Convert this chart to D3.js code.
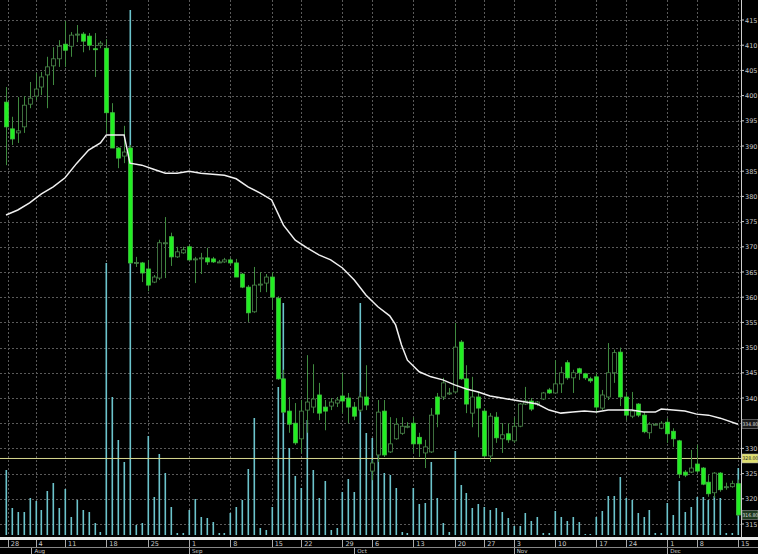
<!DOCTYPE html>
<html><head><meta charset="utf-8">
<script src="https://cdn.jsdelivr.net/npm/d3@7"></script>
<style>html,body{margin:0;padding:0;background:#000;overflow:hidden}</style>
</head><body>
<svg id="c" width="758" height="554"></svg>
<script>
// OHLC [open, high, low, close]
const candles = [
[398.7,401.7,386.2,393.8],[393.4,395.8,390.2,391.4],[392.6,399.7,390.6,393.0],[393.8,399.9,392.6,398.1],[398.3,402.7,397.5,399.5],
[399.9,404.5,399.1,401.3],[401.7,404.7,400.1,403.7],[404.1,407.7,397.5,405.7],[405.9,409.6,402.1,407.3],[407.3,411.0,405.7,409.8],
[410.2,414.8,405.7,409.0],[409.8,412.6,407.7,412.0],[412.0,414.0,410.6,412.2],[412.2,412.6,408.6,410.8],[411.8,412.4,409.0,410.0],
[409.3,412.4,403.7,409.2],[410.0,410.8,409.4,410.4],[409.4,411.2,392.6,396.6],[396.6,398.5,389.6,389.6],[389.6,389.8,385.6,387.6],
[388.0,394.0,386.6,388.8],[389.6,390.2,366.6,366.8],[366.8,368.0,366.0,366.9],[366.8,367.0,363.0,364.8],[365.6,367.4,361.2,362.4],
[363.0,364.4,362.8,364.0],[363.8,371.4,363.4,370.8],[370.6,375.9,363.8,370.8],[372.0,372.8,366.2,368.0],[368.0,370.0,367.8,369.0],
[368.8,370.0,368.6,369.4],[370.0,370.4,367.2,367.4],[367.6,368.0,362.8,367.6],[367.8,368.8,364.6,367.8],[367.8,369.8,366.4,367.0],
[367.6,368.0,366.8,367.0],[367.0,367.4,366.8,367.0],[367.0,367.8,366.8,367.4],[367.4,367.8,366.4,366.8],[366.8,367.6,364.0,364.0],
[364.6,364.8,361.8,362.0],[362.0,362.4,355.1,356.9],[357.1,366.0,356.9,362.4],[362.6,365.0,361.0,362.6],[362.8,364.6,361.0,364.0],
[364.0,365.0,357.5,360.0],[359.8,360.2,343.6,343.8],[343.8,345.6,337.0,337.2],[337.4,340.2,333.1,334.8],[335.0,339.0,330.7,331.1],
[331.9,339.6,329.1,337.4],[337.6,348.5,333.1,339.2],[338.2,346.7,337.0,339.8],[340.6,343.0,335.6,337.0],[338.2,339.6,333.6,337.4],
[338.4,340.0,337.6,339.2],[339.0,340.2,338.2,339.6],[340.4,345.0,337.0,339.4],[340.0,341.0,335.0,338.2],[338.2,339.2,335.6,336.4],
[337.6,341.2,337.2,340.2],[340.2,346.5,337.6,338.6],[325.5,327.7,323.7,327.1],[328.7,339.6,327.3,337.2],[337.4,339.6,328.3,328.7],
[329.3,336.2,329.1,330.9],[331.9,336.0,331.7,334.8],[333.0,336.2,332.7,334.4],[334.4,335.2,334.0,334.4],[335.0,336.2,329.1,330.9],
[332.2,333.1,328.3,330.9],[329.1,331.7,326.1,330.3],[329.3,338.0,329.1,336.6],[340.2,341.0,334.2,336.8],[340.2,344.0,339.6,343.0],
[341.0,342.0,340.6,341.0],[341.2,354.9,341.0,350.1],[351.1,351.5,343.6,343.8],[343.8,346.5,337.0,338.8],[337.0,344.2,334.2,340.2],
[340.2,341.2,332.2,338.0],[337.4,338.0,328.3,328.5],[328.5,337.0,327.3,336.4],[336.2,337.2,331.1,332.1],[331.9,335.0,329.1,332.7],
[332.9,335.0,331.1,331.7],[331.5,336.2,331.1,334.4],[334.4,339.0,334.2,338.8],[338.8,342.2,338.6,339.4],[339.4,340.0,337.4,337.8],
[338.8,339.4,338.4,339.2],[339.8,341.2,339.6,341.0],[341.6,342.0,340.8,341.0],[341.0,347.5,341.0,342.8],[342.8,346.2,341.0,345.0],
[347.0,347.5,343.6,344.0],[344.0,345.6,341.0,345.0],[345.8,346.0,343.6,345.0],[344.8,345.0,343.6,344.0],[343.8,344.2,343.0,343.4],
[344.2,345.0,337.0,338.2],[338.0,341.6,337.6,340.6],[340.2,350.9,339.6,345.0],[345.0,349.6,343.0,349.0],[349.1,350.0,338.4,340.2],
[340.2,341.2,335.6,336.6],[336.4,341.2,336.0,337.4],[338.8,339.0,336.2,336.6],[336.6,337.2,333.0,333.3],[333.1,335.2,331.9,334.8],
[334.8,335.0,334.6,334.8],[334.0,335.4,333.8,335.0],[335.2,336.0,331.1,332.9],[333.4,334.0,330.3,331.9],[331.5,331.7,324.1,324.9],
[325.3,325.7,324.3,324.7],[325.3,329.7,325.1,326.1],[326.9,330.7,325.1,325.5],[326.1,326.3,322.7,322.9],[323.3,324.7,320.4,321.0],
[321.2,325.3,320.2,325.1],[325.1,325.3,321.4,321.8],[322.4,323.2,321.8,322.4],[322.4,323.6,322.2,323.0],[323.0,323.8,316.6,316.8]
];
const volumes = [
65,27,23,23,37,34,25,44,52,27,46,18,35,25,23,12,3,272,138,95,73,525,
10,12,99,38,81,62,28,2,2,25,36,18,17,13,2,2,22,28,35,66,117,7,5,28,148,232,87,59,47,115,65,37,54,5,7,43,56,43,232,102,
97,85,62,60,47,3,2,47,31,32,73,37,12,3,84,50,42,27,31,28,25,27,23,17,9,9,22,14,18,2,2,24,18,14,18,13,1,1,18,24,39,39,58,37,35,22,18,25,2,2,32,20,54,23,28,38,38,35,39,37,2,2,67
];
const maIdx = [0,2,4,6,8,10,12,14,16,17,20,21,23,25,27,29,31,33,35,37,39,41,43,45,47,49,51,53,55,57,59,61,63,65,66,67,68,70,72,74,76,78,80,82,84,86,88,90,92,94,96,98,100,102,104,106,108,110,111,113,115,117,119,121,124];
const maVal = [376.3,377.3,378.7,380.5,381.9,383.7,386.6,389.2,390.6,392.2,392.2,386.6,386.2,385.4,384.6,384.6,385.0,384.6,384.4,384.2,383.5,381.9,380.7,379.3,374.3,371.3,369.8,368.4,367.4,365.8,363.4,360.4,358.1,356.3,354.5,350.5,347.5,345.2,344.2,343.6,342.6,341.8,341.2,340.4,340.0,339.6,339.2,338.8,337.6,337.0,337.2,337.4,337.2,337.6,337.6,337.6,337.2,337.2,337.8,337.6,337.4,336.8,336.6,336.0,334.8];
const dayTickIdx = [0.3,5,10,17,24,31,38,45,50,57,62,69,76,81,86,93,100,105,112,117,124];
const dayTickLabels = ["28","4","11","18","25","1","8","15","22","29","6","13","20","27","3","10","17","24","1","8","15"];
const monthIdx = [4.3,31,59,86,112];
const monthLabels = ["Aug","Sep","Oct","Nov","Dec"];
const priceTicks = d3.range(315,416,5);
const refLevel = 328.0;

const svg = d3.select("#c");
const W=758,H=554, plotR=741, volBase=535;
svg.append("rect").attr("width",W).attr("height",H).attr("fill","#000");
const x = d3.scaleLinear().domain([0,candles.length-1]).range([6,738]);
const y = d3.scaleLinear().domain([315,415]).range([524,20]);
const yv = d3.scaleLinear().domain([0,525]).range([volBase,10]);

const g = svg.append("g");
g.selectAll(".hg").data(priceTicks).join("line").attr("x1",0).attr("x2",plotR)
 .attr("y1",d=>Math.round(y(d))+0.5).attr("y2",d=>Math.round(y(d))+0.5)
 .attr("stroke","#5a5a5a").attr("stroke-dasharray","2,2");
g.selectAll(".vg").data(dayTickIdx).join("line").attr("y1",0).attr("y2",volBase)
 .attr("x1",d=>Math.round(x(d))+0.5).attr("x2",d=>Math.round(x(d))+0.5)
 .attr("stroke","#5a5a5a").attr("stroke-dasharray","2,2");
g.selectAll(".vol").data(volumes).join("rect")
 .attr("x",(d,i)=>Math.round(x(i))-0.5).attr("width",1.6)
 .attr("y",d=>yv(d)).attr("height",d=>volBase-yv(d)).attr("fill","#6cc4cc");
g.append("line").attr("x1",0).attr("x2",plotR).attr("y1",y(refLevel)).attr("y2",y(refLevel))
 .attr("stroke","#d8d890").attr("stroke-width",1);
const cg = g.selectAll(".cd").data(candles).join("g");
cg.append("line").attr("x1",(d,i)=>Math.round(x(i))+0.5).attr("x2",(d,i)=>Math.round(x(i))+0.5)
 .attr("y1",d=>y(d[1])).attr("y2",d=>y(d[2])).attr("stroke","#3f8a3f").attr("stroke-width",1);
cg.append("rect").attr("x",(d,i)=>Math.round(x(i))-1.5).attr("width",4)
 .attr("y",d=>y(Math.max(d[0],d[3]))).attr("height",d=>Math.max(1,Math.abs(y(d[0])-y(d[3]))))
 .attr("fill",d=>d[3]<d[0]?"#22ee22":"#000")
 .attr("stroke",d=>d[3]<d[0]?"#40c040":"#4e8a4e").attr("stroke-width",0.8);
g.append("path").datum(maIdx.map((d,i)=>[d,maVal[i]]))
 .attr("d",d3.line().x(d=>x(d[0])).y(d=>y(d[1])))
 .attr("fill","none").attr("stroke","#f0f0f0").attr("stroke-width",1.5);
// right axis
const tags=[[maVal[maVal.length-1],"334.80","#1a1a1a","#ddd"],[refLevel,"328.00","#e0e070","#222"],[candles[candles.length-1][3],"316.80","#1f3a1f","#ddd"]];
const shownTicks = priceTicks.filter(t=>tags.every(tg=>Math.abs(y(t)-y(tg[0]))>7));
svg.append("line").attr("x1",plotR+0.5).attr("x2",plotR+0.5).attr("y1",0).attr("y2",538).attr("stroke","#cfcfcf");
svg.selectAll(".pt").data(shownTicks).join("text").attr("x",745).attr("y",d=>y(d)+2.5)
 .attr("fill","#c8c8c8").attr("font-family","DejaVu Sans").attr("font-size",6.5).text(d=>d);
svg.selectAll(".ptk").data(priceTicks).join("line").attr("x1",plotR).attr("x2",plotR+3)
 .attr("y1",d=>y(d)).attr("y2",d=>y(d)).attr("stroke","#cfcfcf");
tags.forEach(([v,txt,bg,fg])=>{
  const yy=y(v);
  svg.append("rect").attr("x",742).attr("y",yy-4.5).attr("width",16).attr("height",9).attr("fill",bg).attr("stroke","#aaa").attr("stroke-width",0.5);
  svg.append("text").attr("x",742.5).attr("y",yy+2).attr("fill",fg).attr("font-family","DejaVu Sans Condensed, DejaVu Sans").attr("font-size",5).text(txt);
});
// bottom axis
svg.append("rect").attr("x",0).attr("y",537).attr("width",W).attr("height",3).attr("fill","#e8e8e8");
svg.append("line").attr("x1",0).attr("x2",W).attr("y1",547.5).attr("y2",547.5).attr("stroke","#888");
svg.selectAll(".dt").data(dayTickIdx).join("line").attr("x1",d=>Math.round(x(d))+0.5).attr("x2",d=>Math.round(x(d))+0.5)
 .attr("y1",540).attr("y2",547).attr("stroke","#aaa");
svg.selectAll(".dl").data(dayTickLabels).join("text").attr("x",(d,i)=>Math.min(x(dayTickIdx[i])+3,748)).attr("y",546)
 .attr("fill","#c8c8c8").attr("font-family","DejaVu Sans").attr("font-size",6.5).text(d=>d);
svg.selectAll(".mt").data(monthIdx).join("line").attr("x1",d=>Math.round(x(d))+0.5).attr("x2",d=>Math.round(x(d))+0.5)
 .attr("y1",548).attr("y2",554).attr("stroke","#aaa");
svg.selectAll(".ml").data(monthLabels).join("text").attr("x",(d,i)=>x(monthIdx[i])+3).attr("y",553)
 .attr("fill","#c8c8c8").attr("font-family","DejaVu Sans").attr("font-size",5.5).text(d=>d);
</script></body></html>
